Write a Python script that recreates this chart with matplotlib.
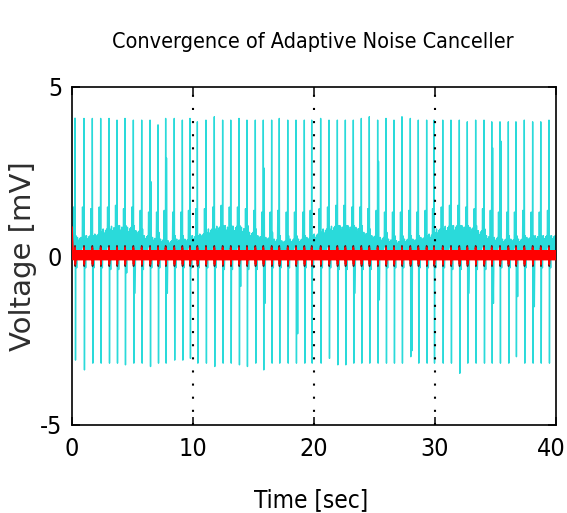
import matplotlib
matplotlib.use('Agg')
import matplotlib.pyplot as plt
from matplotlib import transforms

# ---------------- data ----------------
x_ticks = [0, 10, 20, 30, 40]
y_ticks = [-5, 0, 5]
marker_lines = [10, 20, 30]

# beat (R-peak) times [s]
beat_t = [0.25, 0.99, 1.68, 2.37, 3.06, 3.72, 4.38, 5.07, 5.76, 6.45, 7.11, 7.74, 8.45, 9.12, 9.75,
          10.36, 11.07, 11.76, 12.45, 13.12, 13.80, 14.46, 15.15, 15.81, 16.50, 17.13, 17.83, 18.51, 19.20, 19.81,
          20.55, 21.24, 21.93, 22.59, 23.25, 23.91, 24.57, 25.26, 25.95, 26.61, 27.27, 27.96, 28.62, 29.31,
          29.92, 30.64, 31.32, 32.01, 32.67, 33.36, 34.05, 34.69, 35.37, 36.06, 36.69, 37.38, 38.07, 38.74, 39.42]

# R peak heights [mV]
r_peak = [4.08, 4.07, 4.07, 4.07, 4.07, 4.02, 4.07, 4.02, 4.02, 4.02, 3.88, 4.07, 4.07, 4.02, 4.07,
          3.97, 4.02, 4.12, 4.02, 4.02, 4.07, 4.02, 4.02, 4.02, 4.02, 4.07, 4.02, 4.02, 4.02, 4.02,
          4.07, 4.02, 4.02, 4.02, 4.02, 4.07, 4.12, 4.02, 4.07, 4.02, 4.12, 4.07, 4.02, 4.02,
          4.02, 4.02, 4.02, 4.02, 3.97, 4.02, 4.02, 3.97, 3.97, 3.97, 3.97, 4.02, 3.97, 3.97, 4.02]

# S trough depths [mV]
s_trough = [-3.08, -3.37, -3.17, -3.17, -3.17, -3.17, -3.22, -3.17, -3.17, -3.27, -3.17, -3.17, -3.08, -3.08, -3.03,
            -3.17, -3.17, -3.27, -3.17, -3.17, -3.22, -3.27, -3.17, -3.37, -3.17, -3.17, -3.17, -3.17, -3.17, -3.17,
            -3.17, -3.03, -3.22, -3.22, -3.17, -3.17, -3.17, -3.17, -3.17, -3.17, -3.17, -2.98, -3.17, -3.17,
            -3.17, -3.17, -3.17, -3.47, -3.17, -3.17, -3.17, -3.17, -3.17, -3.17, -2.98, -3.17, -3.17, -3.17, -3.17]

# small wave just before each R peak [mV]
pre_peak = [1.45, 1.45, 1.4, 1.45, 1.45, 1.5, 1.4, 1.45, 1.35, 1.3, 1.3, 1.35, 1.3, 1.3, 1.35,
            1.4, 1.4, 1.45, 1.5, 1.45, 1.45, 1.4, 1.35, 1.3, 1.3, 1.35, 1.3, 1.3, 1.3, 1.35,
            1.4, 1.45, 1.5, 1.5, 1.45, 1.45, 1.4, 1.35, 1.3, 1.3, 1.3, 1.35, 1.3, 1.35,
            1.4, 1.45, 1.5, 1.5, 1.45, 1.4, 1.4, 1.35, 1.3, 1.3, 1.3, 1.35, 1.3, 1.3, 1.35]

# wide wave just after each R peak [mV]
post_pos = [0.6, 0.6, 0.6, 0.7, 0.8, 0.9, 0.9, 0.9, 0.8, 2.2, 0.7, 2.9, 0.6, 0.6, 0.6,
            0.6, 0.7, 0.8, 0.9, 0.9, 0.9, 0.9, 0.8, 2.6, 0.7, 0.6, 0.6, 0.6, 0.6, 0.6,
            0.7, 0.8, 0.9, 0.9, 0.9, 0.9, 0.8, 2.8, 0.7, 0.6, 0.6, 0.6, 0.6, 0.6,
            0.7, 0.8, 0.9, 0.9, 0.9, 0.9, 0.8, 3.2, 3.4, 0.6, 0.6, 0.6, 0.6, 0.6, 0.6]

# negative wave after each S trough [mV]
post_neg = [-0.35, -0.35, -0.35, -0.35, -0.4, -0.4, -0.5, -1.1, -0.4, -0.35, -0.35, -1.1, -0.35, -0.35, -0.35,
            -0.35, -0.35, -0.35, -0.4, -0.4, -0.9, -0.4, -0.4, -1.4, -0.35, -0.35, -0.35, -2.3, -0.35, -0.35,
            -0.35, -0.35, -0.4, -0.4, -1.1, -0.4, -0.4, -1.3, -0.35, -0.35, -0.35, -2.8, -0.35, -0.35,
            -0.35, -0.35, -0.4, -0.4, -1.1, -0.4, -0.4, -1.4, -0.35, -0.35, -1.2, -0.35, -1.5, -0.35, -0.35]

# upper edge of the dense noise band between beats [mV]
band_top = [0.55, 0.55, 0.6, 0.65, 0.8, 0.88, 0.9, 0.85, 0.75, 0.6, 0.55, 0.5, 0.45, 0.5, 0.5,
            0.6, 0.65, 0.8, 0.88, 0.9, 0.88, 0.85, 0.7, 0.6, 0.55, 0.5, 0.45, 0.5, 0.5, 0.55,
            0.65, 0.8, 0.88, 0.9, 0.9, 0.85, 0.7, 0.6, 0.55, 0.5, 0.45, 0.5, 0.5, 0.55,
            0.65, 0.8, 0.88, 0.9, 0.9, 0.85, 0.75, 0.6, 0.55, 0.5, 0.5, 0.5, 0.55, 0.6, 0.6]
band_bottom = -0.1
band_levels = [1.0, 0.55, 0.85, 0.4, 0.95, 0.7]   # relative heights of the band's wiggles

# residual (canceller error) read values [mV]
red_start = [0.85, 0.5, 0.3]
red_hi = 0.15
red_lo = -0.1
red_up = [0.3] * 59
red_dn = [-0.3] * 59
t_end = 40.0

# ---------------- build the drawn vertex lists ----------------
osc_step = 0.025


def band_val(i, k):
    if k % 2:
        return band_bottom
    return band_top[i] * band_levels[(k // 2) % len(band_levels)]


def build_noisy():
    xs, ys = [0.0], [band_bottom]
    prev = 0.0
    for i, t in enumerate(beat_t):
        tt, k = prev + osc_step, 0
        while tt < t - 0.17:
            xs.append(tt)
            ys.append(band_val(i, k))
            tt += osc_step
            k += 1
        xs += [t - 0.15, t - 0.12, t - 0.09, t - 0.02, t, t + 0.04, t + 0.07, t + 0.10, t + 0.14, t + 0.18]
        ys += [0.3, pre_peak[i], 0.3, 0.2, r_peak[i], s_trough[i], post_pos[i], 0.0, post_neg[i], 0.1]
        prev = t + 0.18
    tt, k = prev + osc_step, 0
    while tt <= t_end:
        xs.append(tt)
        ys.append(band_val(len(beat_t) - 1, k))
        tt += osc_step
        k += 1
    return xs, ys


def build_error():
    xs = [0.0, 0.03, 0.06]
    ys = list(red_start)
    tt, k = 0.08, 0
    beats = list(zip(beat_t, red_up, red_dn))
    j = 0
    while tt <= t_end:
        if j < len(beats) and tt >= beats[j][0]:
            bt, up, dn = beats[j]
            xs += [bt, bt + 0.02]
            ys += [up * 0.8, dn * 0.8]
            j += 1
            tt = bt + 0.04
        xs.append(tt)
        ys.append(red_hi if k % 2 == 0 else red_lo)
        tt += 0.02
        k += 1
    return xs, ys


def build_spikes():
    xs, ys = [0.0], [0.0]
    for t, up, dn in zip(beat_t, red_up, red_dn):
        xs += [t - 0.02, t, t + 0.02, t + 0.04]
        ys += [0.0, up, dn, 0.0]
    xs.append(t_end)
    ys.append(0.0)
    return xs, ys


cond = dict(family='DejaVu Sans', stretch='condensed')

W, H = 567, 513
fig = plt.figure(figsize=(W / 100, H / 100), dpi=100)
ax = fig.add_axes([72 / W, 1 - 425 / H, (556 - 72) / W, (425 - 87) / H])

nx, ny = build_noisy()
ax.plot(nx, ny, color='#2adada', lw=1.0, zorder=2)
for xv in marker_lines:
    ax.axvline(xv, color='k', lw=1.5, linestyle=(0, (1, 5.3)), zorder=3)
sx, sy = build_spikes()
ax.plot(sx, sy, color='#5a2a2a', lw=1.2, zorder=4)
ex, ey = build_error()
ax.plot(ex, ey, color='#ff0000', lw=1.3, zorder=5)

ax.set_xlim(0, 40)
ax.set_ylim(-5, 5)
ax.set_xticks(x_ticks)
ax.set_yticks(y_ticks)
ax.set_xticklabels([str(v) for v in x_ticks], fontsize=18, **cond)
ax.set_yticklabels([str(v) for v in y_ticks], fontsize=18, **cond)
ax.tick_params(direction='in', length=6, width=1.1, top=True, right=True, pad=7)
ax.tick_params(axis='x', pad=9)
for sp in ax.spines.values():
    sp.set_linewidth(1.2)
# keep the last x label inside the figure
last = ax.get_xticklabels()[-1]
last.set_transform(last.get_transform() + transforms.ScaledTranslation(-5 / 100, 0, fig.dpi_scale_trans))

fig.text(313 / W, 1 - 48 / H, 'Convergence of Adaptive Noise Canceller',
         fontsize=15.5, ha='center', va='baseline', **cond)
fig.text(311 / W, 1 - 507 / H, 'Time [sec]', fontsize=17.5, ha='center', va='baseline', **cond)
fig.text(23 / W, 1 - 256 / H, 'Voltage [mV]', family='DejaVu Sans', fontsize=21, rotation=90,
         ha='center', va='center', color='#2e2e2e')

fig.savefig('out.png', dpi=100)
